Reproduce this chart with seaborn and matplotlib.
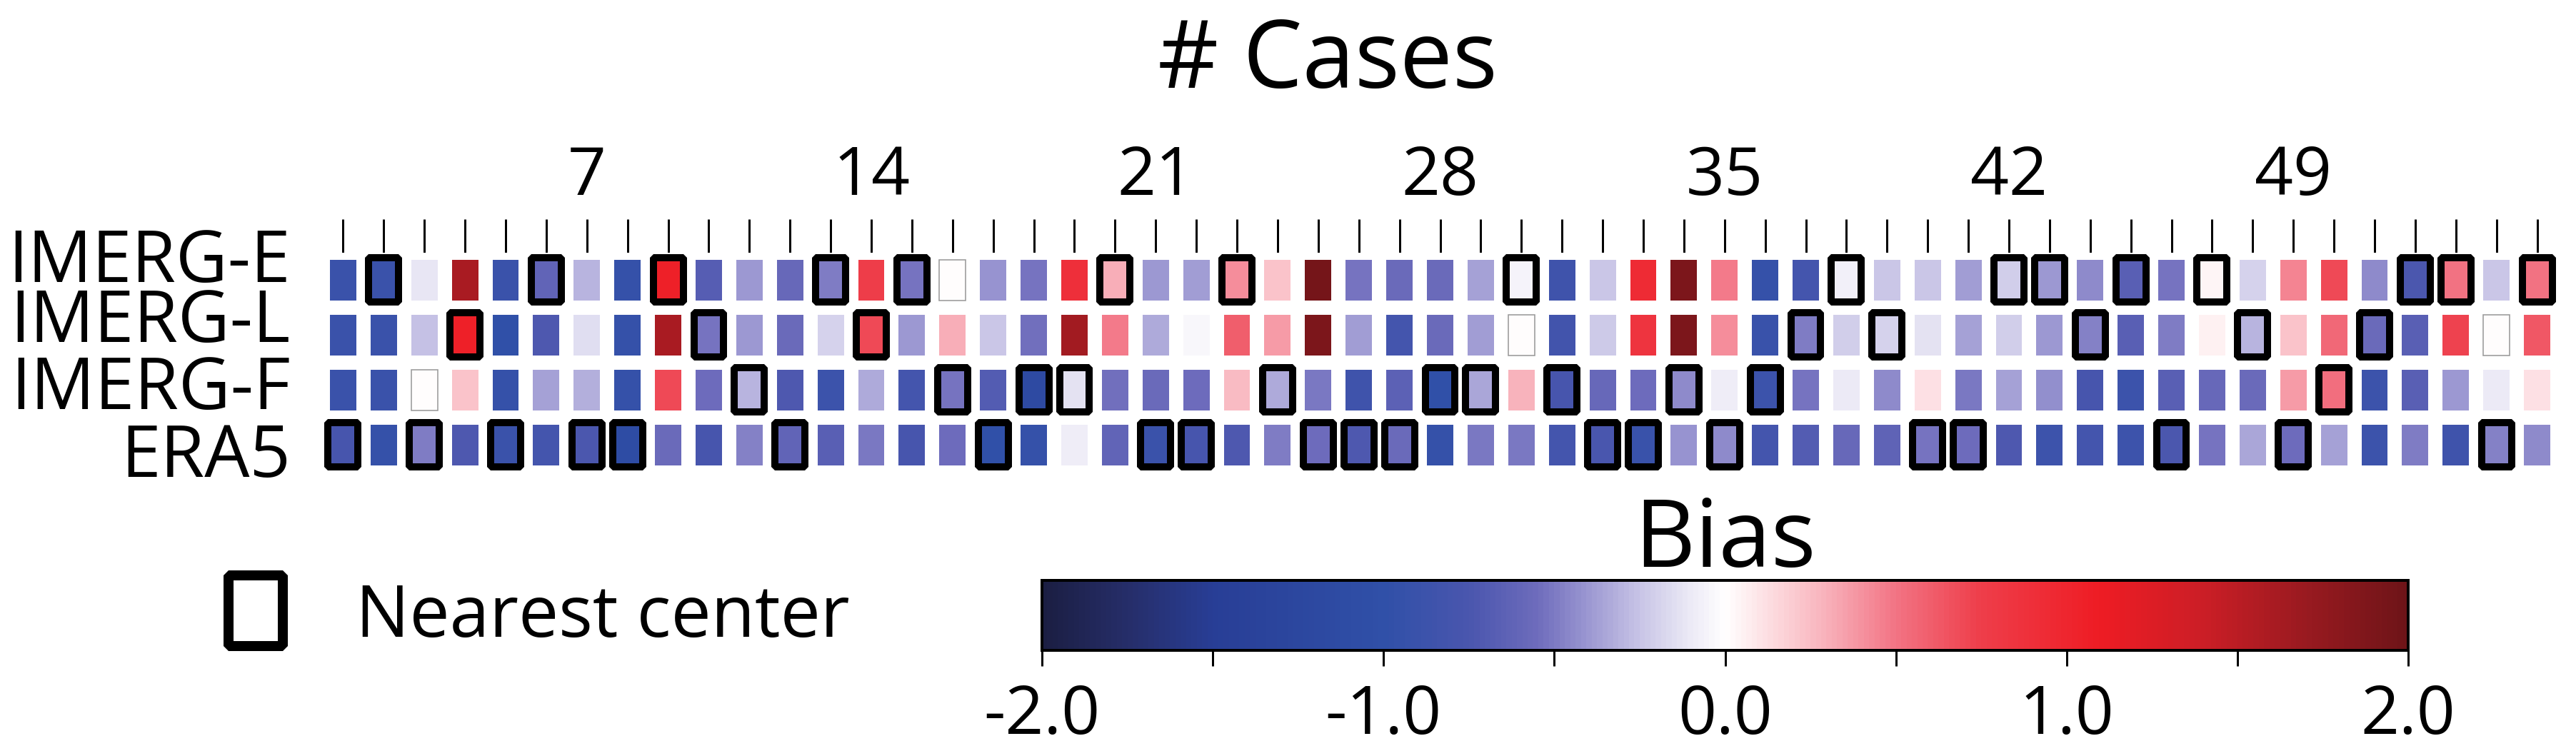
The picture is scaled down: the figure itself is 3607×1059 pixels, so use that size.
import numpy as np
import pandas as pd
import matplotlib
matplotlib.use("Agg")
import matplotlib.pyplot as plt
import matplotlib.transforms as mtransforms
import seaborn as sns
from matplotlib.colors import LinearSegmentedColormap
from matplotlib.patches import Rectangle

# ---------------- data ----------------
datasets = ["IMERG-E", "IMERG-L", "IMERG-F", "ERA5"]
cases = list(range(1, 56))
case_tick_labels = [7, 14, 21, 28, 35, 42, 49]

bias_imerg_e = [-0.9, -0.9, -0.12, 1.6, -0.9, -0.62, -0.3, -0.95, 1.05, -0.68,
                -0.4, -0.58, -0.5, 0.75, -0.52, 0.0, -0.42, -0.53, 0.9, 0.3,
                -0.4, -0.38, 0.42, 0.22, 1.95, -0.52, -0.57, -0.57, -0.36, -0.06,
                -0.85, -0.25, 0.95, 1.9, 0.48, -0.95, -0.8, -0.07, -0.25, -0.25,
                -0.38, -0.21, -0.4, -0.45, -0.66, -0.52, 0.04, -0.2, 0.45, 0.7,
                -0.44, -0.75, 0.5, -0.25, 0.5]
bias_imerg_l = [-0.9, -0.9, -0.26, 1.05, -1.0, -0.72, -0.15, -0.95, 1.6, -0.53,
                -0.4, -0.57, -0.2, 0.7, -0.4, 0.3, -0.25, -0.54, 1.65, 0.48,
                -0.34, -0.04, 0.6, 0.37, 1.9, -0.38, -0.8, -0.57, -0.38, 0.0,
                -0.82, -0.23, 0.85, 1.9, 0.42, -0.92, -0.5, -0.21, -0.19, -0.13,
                -0.37, -0.21, -0.4, -0.47, -0.66, -0.5, 0.06, -0.31, 0.22, 0.56,
                -0.57, -0.66, 0.72, 0.0, 0.63]
bias_imerg_f = [-0.9, -0.9, 0.0, 0.22, -0.95, -0.37, -0.32, -0.95, 0.7, -0.55,
                -0.3, -0.72, -0.88, -0.34, -0.8, -0.53, -0.7, -1.15, -0.13, -0.54,
                -0.57, -0.55, 0.26, -0.33, -0.51, -0.85, -0.65, -1.0, -0.35, 0.29,
                -0.78, -0.58, -0.55, -0.45, -0.08, -0.88, -0.53, -0.1, -0.44, 0.12,
                -0.51, -0.37, -0.43, -0.78, -0.88, -0.66, -0.58, -0.57, 0.37, 0.53,
                -0.88, -0.66, -0.4, -0.1, 0.12]
bias_era5 = [-0.78, -0.95, -0.5, -0.72, -0.9, -0.8, -0.75, -1.1, -0.57, -0.78,
             -0.47, -0.62, -0.66, -0.51, -0.78, -0.55, -1.0, -0.95, -0.08, -0.62,
             -0.9, -0.78, -0.72, -0.5, -0.55, -0.72, -0.57, -0.95, -0.51, -0.51,
             -0.8, -0.76, -0.92, -0.41, -0.44, -0.8, -0.7, -0.58, -0.64, -0.52,
             -0.56, -0.72, -0.86, -0.8, -0.86, -0.75, -0.53, -0.35, -0.55, -0.37,
             -0.88, -0.5, -0.85, -0.47, -0.45]

# cases whose member is the nearest to the cluster center (1-based case numbers)
nearest_imerg_e = [2, 6, 9, 13, 15, 20, 23, 30, 38, 42, 43, 45, 47, 52, 53, 55]
nearest_imerg_l = [4, 10, 14, 37, 39, 44, 48, 51]
nearest_imerg_f = [11, 16, 18, 19, 24, 28, 29, 31, 34, 36, 50]
nearest_era5 = [1, 3, 5, 7, 8, 12, 17, 21, 22, 25, 26, 27, 32, 33, 35, 40, 41, 46, 49, 54]

cbar_ticks = [-2.0, -1.5, -1.0, -0.5, 0.0, 0.5, 1.0, 1.5, 2.0]
cbar_tick_labels = ["-2.0", "", "-1.0", "", "0.0", "", "1.0", "", "2.0"]

# ---------------- style ----------------
sns.set_theme(style="white")
plt.rcParams["font.family"] = ["Open Sans", "DejaVu Sans"]
plt.rcParams["axes.unicode_minus"] = False
for k in ["text.color", "axes.labelcolor", "xtick.color", "ytick.color",
          "xtick.labelcolor", "ytick.labelcolor"]:
    plt.rcParams[k] = "black"

cmap = LinearSegmentedColormap.from_list("bias", [
    (0.0000, "#1b1e42"), (0.0625, "#262e6a"), (0.125, "#283e96"),
    (0.25, "#3050a8"), (0.3125, "#4a56ae"), (0.3625, "#6e6cbc"),
    (0.40, "#9c98d2"), (0.4375, "#c8c4e6"), (0.475, "#eceaf6"),
    (0.50, "#ffffff"), (0.5375, "#fcd8dc"), (0.575, "#f8b0ba"),
    (0.625, "#f27484"), (0.6875, "#ee3e4a"), (0.775, "#ee1c24"),
    (0.85, "#cc1e26"), (0.925, "#9a1a20"), (1.0, "#6e1418")])

W, H, DPI = 3607, 1059, 100
PX = 72.0 / DPI  # points per pixel

fig = plt.figure(figsize=(W / DPI, H / DPI), dpi=DPI, facecolor="white")

def frac(x0, y0, x1, y1):
    return [x0 / W, 1 - y1 / H, (x1 - x0) / W, (y1 - y0) / H]

ax = fig.add_axes(frac(452, 354, 3581, 662))
cax = fig.add_axes(frac(1459, 813, 3372, 911))

df = pd.DataFrame([bias_imerg_e, bias_imerg_l, bias_imerg_f, bias_era5],
                  index=datasets, columns=cases)

sns.heatmap(df, ax=ax, cmap=cmap, vmin=-2, vmax=2, cbar_ax=cax,
            cbar_kws=dict(orientation="horizontal"),
            linewidths=20 * PX, linecolor="white")

# thin grey edge for (near-)zero cells
cw, ch = 37 / 57, 57 / 77
for i, row in enumerate(df.values):
    for j, v in enumerate(row):
        if abs(v) < 0.02:
            ax.add_patch(Rectangle((j + 0.5 - cw / 2, i + 0.5 - ch / 2), cw, ch,
                                   fill=False, edgecolor="#9a9a9a", lw=1.6 * PX, zorder=3))

# nearest-center outlines
ow, oh = 42 / 57, 62 / 77
for i, lst in enumerate([nearest_imerg_e, nearest_imerg_l, nearest_imerg_f, nearest_era5]):
    for c in lst:
        j = cases.index(c)
        ax.add_patch(Rectangle((j + 0.5 - ow / 2, i + 0.5 - oh / 2), ow, oh,
                               fill=False, edgecolor="black", lw=10 * PX,
                               joinstyle="bevel", zorder=4, clip_on=False))

# x ticks on top
ax.set_xticks(np.arange(len(cases)) + 0.5)
ax.set_xticklabels([str(c) if c in case_tick_labels else "" for c in cases], rotation=0)
ax.tick_params(axis="x", top=True, bottom=False, labeltop=True, labelbottom=False,
               length=47 * PX, width=3 * PX, pad=12 * PX, labelsize=68, color="black",
               labelcolor="black", direction="out")
ax.set_xlabel("")
ax.set_ylabel("")

# y tick labels
ax.set_yticks(np.arange(len(datasets)) + 0.5)
ax.set_yticklabels(datasets, rotation=0)
ax.tick_params(axis="y", left=False, length=0, pad=45 * PX, labelsize=72,
               labelcolor="black")
offsets_px = [24, 17, 0, -18]
for lab, dy in zip(ax.get_yticklabels(), offsets_px):
    lab.set_transform(lab.get_transform() +
                      mtransforms.ScaledTranslation(0, dy / DPI, fig.dpi_scale_trans))

# title
fig.text(1859 / W, 1 - 123 / H, "# Cases", ha="center", va="baseline", fontsize=95,
         color="black")

# colorbar
cbar = ax.collections[0].colorbar
cbar.set_ticks(cbar_ticks)
cbar.set_ticklabels(cbar_tick_labels)
cax.tick_params(axis="x", length=22 * PX, width=3 * PX, pad=24 * PX, labelsize=68,
                direction="out", bottom=True, color="black", labelcolor="black")
cbar.outline.set_linewidth(4 * PX)
cbar.outline.set_edgecolor("black")
fig.text(2415 / W, 1 - 794 / H, "Bias", ha="center", va="baseline", fontsize=95,
         color="black")

# legend for nearest center
fig.add_artist(Rectangle(((358 - 38) / W, 1 - (855.5 + 49.5) / H), 76 / W, 99 / H,
                         transform=fig.transFigure, fill=False, edgecolor="black",
                         lw=14 * PX, joinstyle="bevel"))
fig.text(498 / W, 1 - 892 / H, "Nearest center", ha="left", va="baseline", fontsize=72,
         color="black")

fig.savefig("out.png", dpi=DPI, facecolor="white")
